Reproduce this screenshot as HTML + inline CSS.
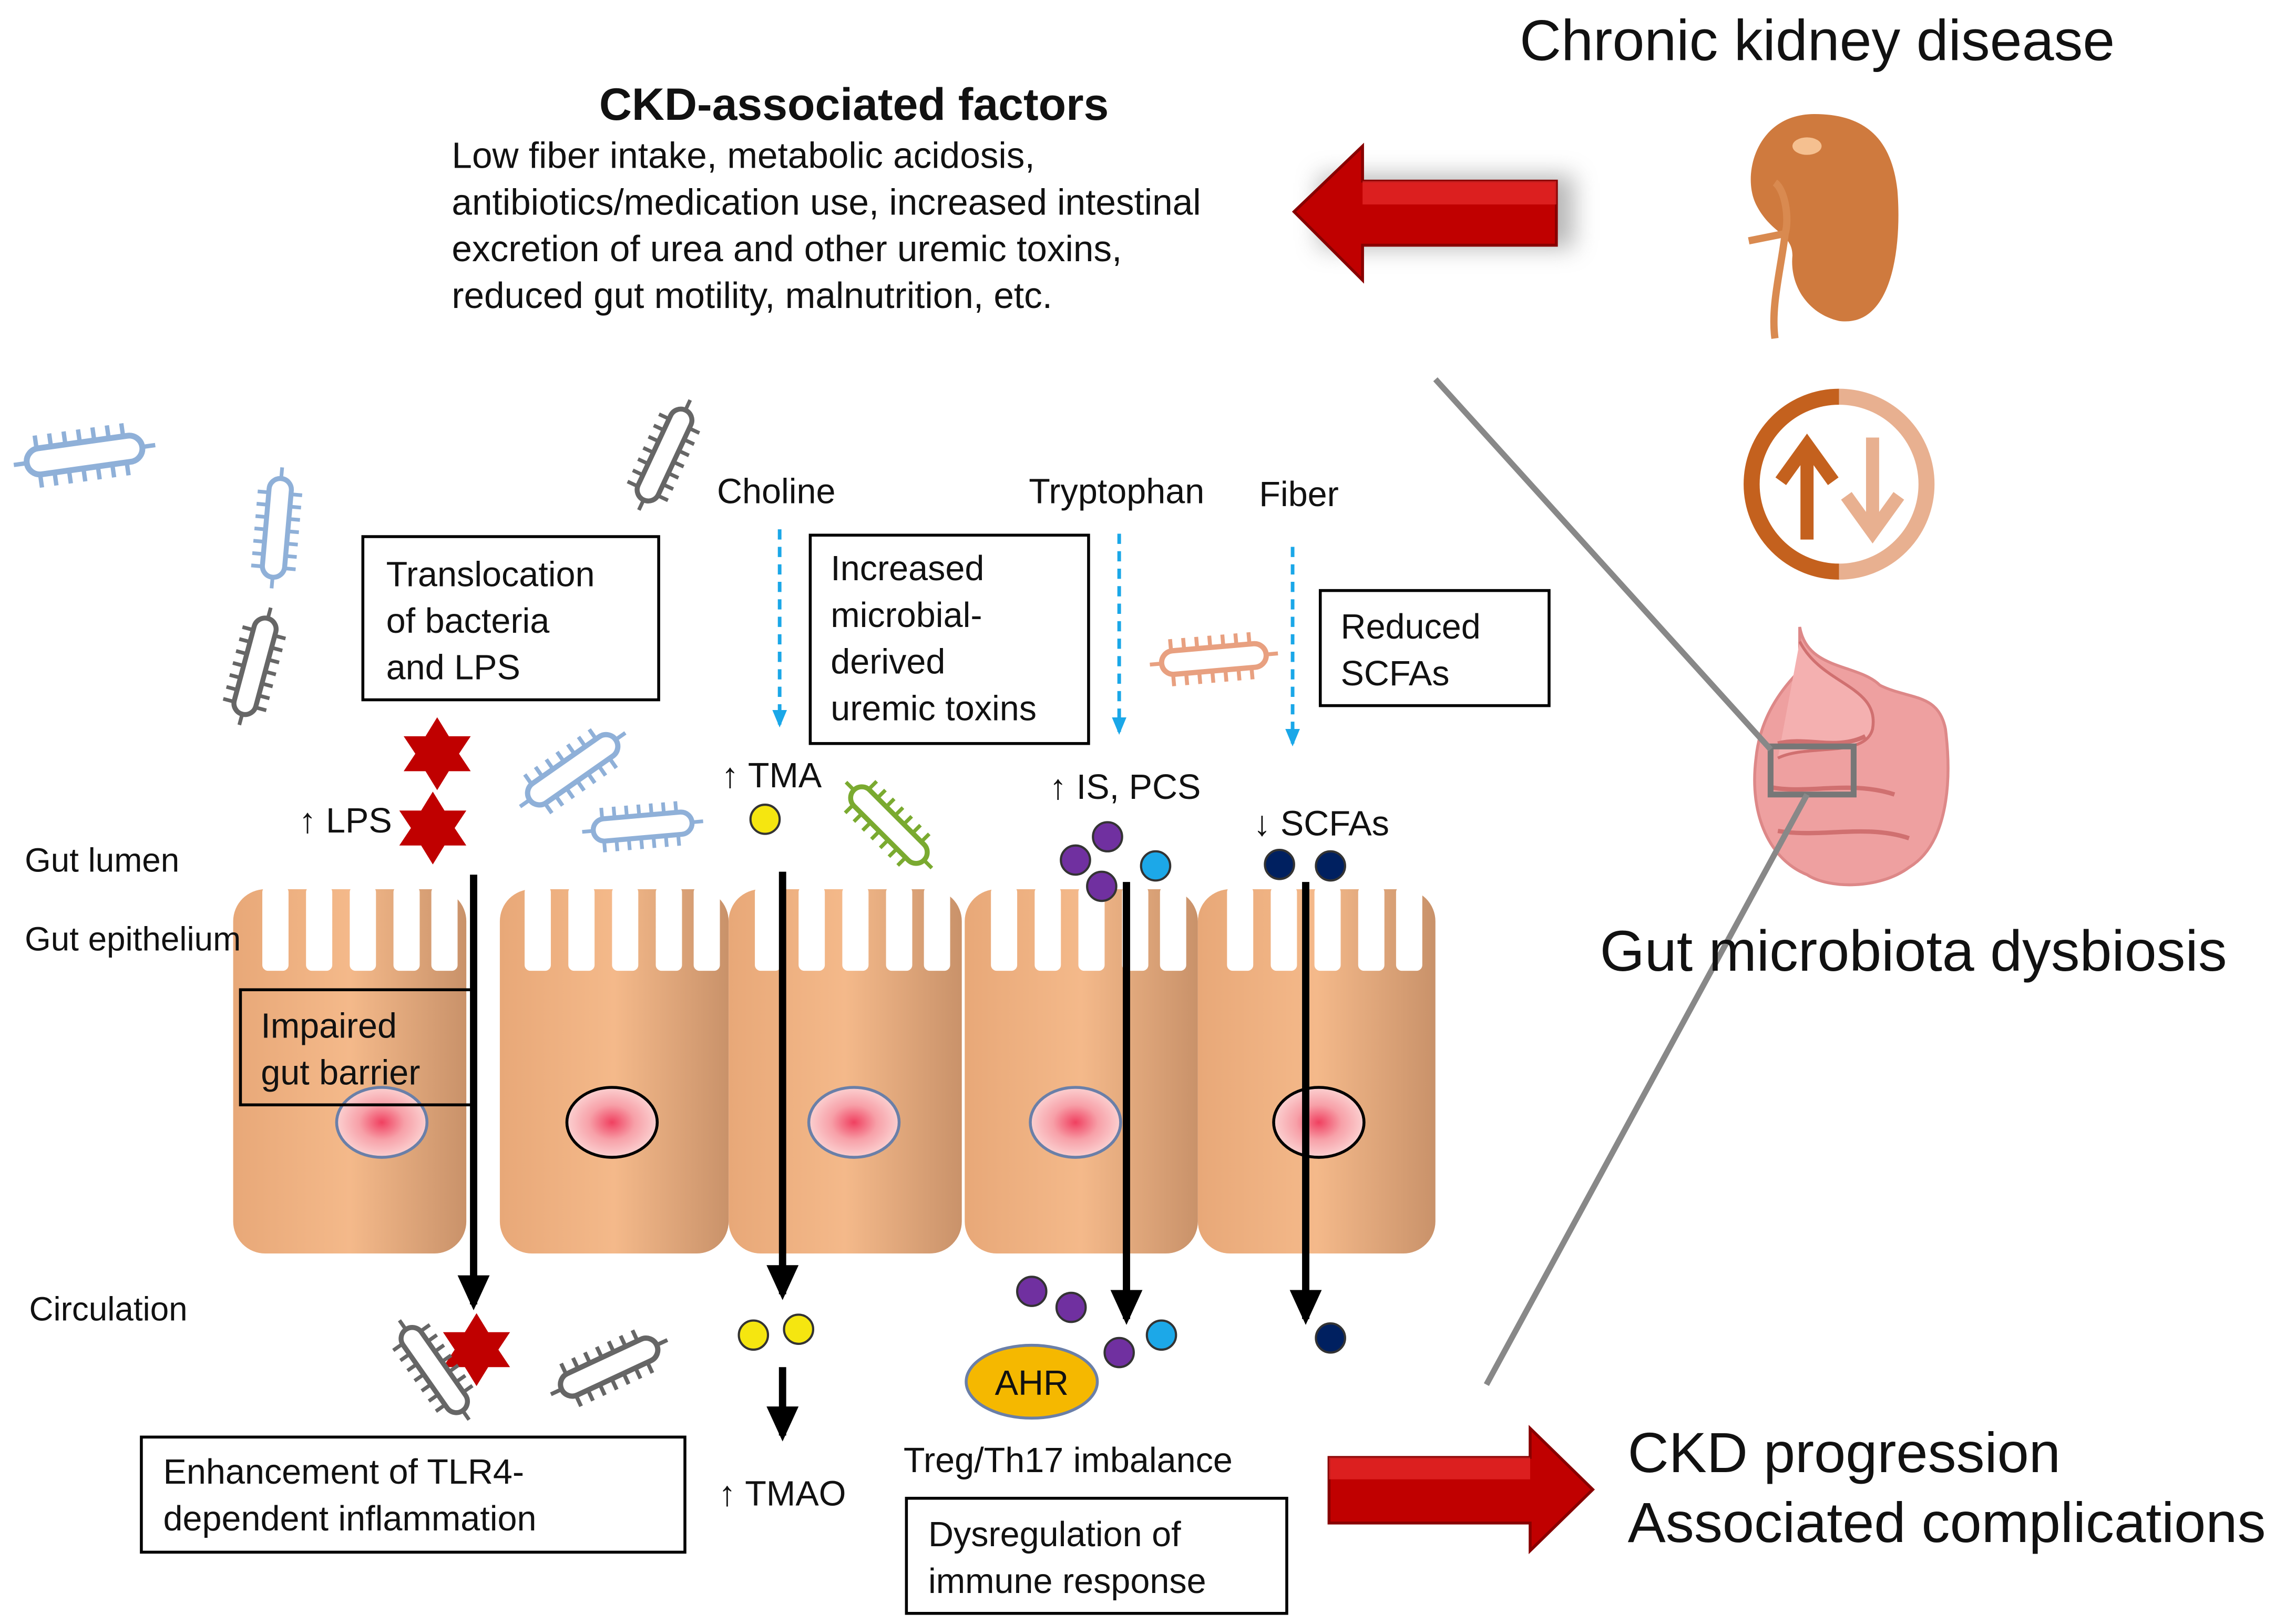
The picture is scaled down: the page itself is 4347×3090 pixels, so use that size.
<!DOCTYPE html>
<html><head><meta charset="utf-8">
<style>
html,body{margin:0;padding:0;background:#fff;}
svg{display:block;}
text{font-family:"Liberation Sans",Arial,sans-serif;fill:#111;}
</style></head><body>
<svg width="4347" height="3090" viewBox="0 0 1568 1114" xmlns="http://www.w3.org/2000/svg">
<defs>
<linearGradient id="cell" x1="0" y1="0" x2="1" y2="0">
<stop offset="0" stop-color="#e8a878"/><stop offset="0.5" stop-color="#f4b98a"/><stop offset="1" stop-color="#c9926a"/>
</linearGradient>
<radialGradient id="nuc"><stop offset="0" stop-color="#f04060"/><stop offset="0.5" stop-color="#f7a0a8"/><stop offset="1" stop-color="#fbd0d0"/></radialGradient>
<filter id="blur"><feGaussianBlur stdDeviation="8"/></filter>
<g id="bac">
<rect x="-40" y="-9" width="80" height="18" rx="9" fill="#fff" stroke-width="4"/>
<path d="M-32,-9v-9M-22,-9v-9M-12,-9v-9M-2,-9v-9M8,-9v-9M18,-9v-9M28,-9v-9M-32,9v9M-22,9v9M-12,9v9M-2,9v9M8,9v9M18,9v9M28,9v9M-40,0h-9M40,0h9" stroke-width="3" fill="none"/>
</g>
<marker id="ah" markerUnits="userSpaceOnUse" markerWidth="24" markerHeight="22" refX="20" refY="11" orient="auto"><path d="M0,0L24,11L0,22z" fill="#000"/></marker>
<marker id="bh" markerUnits="userSpaceOnUse" markerWidth="12" markerHeight="10" refX="10" refY="5" orient="auto"><path d="M0,0L12,5L0,10z" fill="#1aa7e8"/></marker>
</defs>

<!-- top text -->
<text x="1247" y="41" font-size="39.5" text-anchor="middle">Chronic kidney disease</text>
<text x="586" y="82" font-size="31" font-weight="bold" text-anchor="middle">CKD-associated factors</text>
<g font-size="25">
<text x="310" y="115">Low fiber intake, metabolic acidosis,</text>
<text x="310" y="147">antibiotics/medication use, increased intestinal</text>
<text x="310" y="179">excretion of urea and other uremic toxins,</text>
<text x="310" y="211">reduced gut motility, malnutrition,  etc.</text>
</g>

<!-- top red arrow -->
<path d="M905,95L905,120L1080,120L1080,170L905,170L905,195Z" fill="#999" filter="url(#blur)" opacity="0.7"/>
<path d="M888,145L935,100L935,124L1068,124L1068,168L935,168L935,192Z" fill="#c00000" stroke="#800" stroke-width="2"/>
<path d="M935,124L1068,124L1068,140L935,140Z" fill="#e33" opacity="0.6"/>

<!-- kidney -->
<path d="M1245,78C1205,78 1195,120 1205,140C1215,160 1230,160 1230,175C1228,195 1240,215 1262,220C1300,225 1305,165 1302,130C1298,95 1280,78 1245,78Z" fill="#cf7a3e"/>
<path d="M1218,125 C1225,130 1228,150 1225,160 L1200,165 M1225,160 C1222,185 1215,210 1218,232" stroke="#d98a50" stroke-width="5" fill="none"/>
<ellipse cx="1240" cy="100" rx="10" ry="6" fill="#f5c090"/>

<!-- up/down icon -->
<path d="M1262,272 A60,60 0 0,0 1262,392" stroke="#c4611e" stroke-width="11" fill="none"/>
<path d="M1262,272 A60,60 0 0,1 1262,392" stroke="#e8b090" stroke-width="11" fill="none"/>
<path d="M1240,370V310M1222,330L1240,305L1258,330" stroke="#c4611e" stroke-width="9" fill="none"/>
<path d="M1285,300V360M1267,340L1285,365L1303,340" stroke="#e8b090" stroke-width="9" fill="none"/>

<!-- gut -->
<path d="M1235,430C1240,460 1275,455 1290,470C1310,480 1330,475 1335,500C1340,540 1335,580 1310,595C1290,610 1255,610 1240,600C1215,590 1200,560 1205,520C1208,490 1225,470 1235,460Z" fill="#eea0a0" stroke="#d88" stroke-width="2"/>
<path d="M1235,440C1250,470 1290,470 1285,500C1280,520 1240,510 1220,520" fill="#f4b0b0" stroke="#d07070" stroke-width="2"/>
<path d="M1220,510C1240,505 1260,515 1280,505M1215,540C1240,545 1270,535 1300,545M1220,570C1250,575 1280,565 1310,575" stroke="#d07070" stroke-width="3" fill="none"/>
<rect x="1215" y="512" width="57" height="33" fill="none" stroke="#777" stroke-width="4"/>

<!-- gray lines -->
<line x1="985" y1="260" x2="1215" y2="514" stroke="#888" stroke-width="4"/>
<line x1="1020" y1="950" x2="1240" y2="545" stroke="#888" stroke-width="4"/>
<text x="1313" y="666" font-size="39.5" text-anchor="middle">Gut microbiota dysbiosis</text>

<!-- epithelium -->
<g>
<rect x="160" y="610" width="160" height="250" rx="22" fill="url(#cell)"/>
<rect x="343" y="610" width="157" height="250" rx="22" fill="url(#cell)"/>
<rect x="500" y="610" width="160" height="250" rx="22" fill="url(#cell)"/>
<rect x="662" y="610" width="160" height="250" rx="22" fill="url(#cell)"/>
<rect x="822" y="610" width="163" height="250" rx="22" fill="url(#cell)"/>
</g>
<g fill="#fff">
<rect x="180" y="608" width="18" height="58" rx="4"/><rect x="210" y="608" width="18" height="58" rx="4"/><rect x="240" y="608" width="18" height="58" rx="4"/><rect x="270" y="608" width="18" height="58" rx="4"/><rect x="296" y="608" width="18" height="58" rx="4"/>
<rect x="360" y="608" width="18" height="58" rx="4"/><rect x="390" y="608" width="18" height="58" rx="4"/><rect x="420" y="608" width="18" height="58" rx="4"/><rect x="450" y="608" width="18" height="58" rx="4"/><rect x="476" y="608" width="18" height="58" rx="4"/>
<rect x="518" y="608" width="18" height="58" rx="4"/><rect x="548" y="608" width="18" height="58" rx="4"/><rect x="578" y="608" width="18" height="58" rx="4"/><rect x="608" y="608" width="18" height="58" rx="4"/><rect x="634" y="608" width="18" height="58" rx="4"/>
<rect x="680" y="608" width="18" height="58" rx="4"/><rect x="710" y="608" width="18" height="58" rx="4"/><rect x="740" y="608" width="18" height="58" rx="4"/><rect x="770" y="608" width="18" height="58" rx="4"/><rect x="796" y="608" width="18" height="58" rx="4"/>
<rect x="842" y="608" width="18" height="58" rx="4"/><rect x="872" y="608" width="18" height="58" rx="4"/><rect x="902" y="608" width="18" height="58" rx="4"/><rect x="932" y="608" width="18" height="58" rx="4"/><rect x="958" y="608" width="18" height="58" rx="4"/>
</g>
<g fill="url(#nuc)" stroke-width="2">
<ellipse cx="262" cy="770" rx="31" ry="24" stroke="#6a7fa8"/>
<ellipse cx="420" cy="770" rx="31" ry="24" stroke="#000"/>
<ellipse cx="586" cy="770" rx="31" ry="24" stroke="#6a7fa8"/>
<ellipse cx="738" cy="770" rx="31" ry="24" stroke="#6a7fa8"/>
<ellipse cx="905" cy="770" rx="31" ry="24" stroke="#000"/>
</g>

<!-- labels left -->
<g font-size="23">
<text x="17" y="598">Gut lumen</text>
<text x="17" y="652">Gut epithelium</text>
<text x="20" y="906">Circulation</text>
</g>

<!-- boxes -->
<g fill="none" stroke="#000" stroke-width="2">
<rect x="249" y="368" width="203" height="112"/>
<rect x="556" y="367" width="191" height="143" fill="#fff"/>
<rect x="906" y="405" width="157" height="79"/>
<rect x="165" y="679" width="160" height="79"/>
<rect x="97" y="986" width="373" height="79"/>
<rect x="622" y="1028" width="261" height="79"/>
</g>
<g font-size="24">
<text x="265" y="402">Translocation</text><text x="265" y="434">of bacteria</text><text x="265" y="466">and LPS</text>
<text x="570" y="398">Increased</text><text x="570" y="430">microbial-</text><text x="570" y="462">derived</text><text x="570" y="494">uremic toxins</text>
<text x="920" y="438">Reduced</text><text x="920" y="470">SCFAs</text>
<text x="179" y="712">Impaired</text><text x="179" y="744">gut barrier</text>
<text x="112" y="1018">Enhancement  of TLR4-</text><text x="112" y="1050">dependent inflammation</text>
<text x="637" y="1061">Dysregulation  of</text><text x="637" y="1093">immune response</text>
<text x="492" y="345">Choline</text><text x="706" y="345">Tryptophan</text><text x="864" y="347">Fiber</text>
<text x="495" y="540">↑ TMA</text><text x="720" y="548">↑ IS,  PCS</text><text x="860" y="573">↓ SCFAs</text>
<text x="205" y="571">↑ LPS</text><text x="493" y="1033">↑ TMAO</text><text x="620" y="1010">Treg/Th17  imbalance</text>
</g>

<!-- blue dashed arrows -->
<g stroke="#1aa7e8" stroke-width="2.5" stroke-dasharray="7,5" marker-end="url(#bh)">
<line x1="535" y1="363" x2="535" y2="497"/>
<line x1="768" y1="366" x2="768" y2="502"/>
<line x1="887" y1="375" x2="887" y2="510"/>
</g>
<!-- black arrows -->
<g stroke="#000" stroke-width="5" marker-end="url(#ah)">
<line x1="325" y1="600" x2="325" y2="895"/>
<line x1="537" y1="598" x2="537" y2="888"/>
<line x1="773" y1="605" x2="773" y2="905"/>
<line x1="896" y1="605" x2="896" y2="905"/>
<line x1="537" y1="938" x2="537" y2="985"/>
</g>

<!-- stars -->
<g fill="#c00000">
<path d="M300,492l8,13h15l-8,12l8,12h-15l-8,13l-8,-13h-15l8,-12l-8,-12h15z"/>
<path d="M297,543l8,13h15l-8,12l8,12h-15l-8,13l-8,-13h-15l8,-12l-8,-12h15z"/>
<path d="M327,901l8,13h15l-8,12l8,12h-15l-8,13l-8,-13h-15l8,-12l-8,-12h15z"/>
</g>

<!-- molecules -->
<g stroke="#333" stroke-width="1.5">
<circle cx="525" cy="562" r="10" fill="#f5e610"/>
<circle cx="517" cy="916" r="10" fill="#f5e610"/><circle cx="548" cy="912" r="10" fill="#f5e610"/>
<circle cx="760" cy="574" r="10" fill="#7030a0"/><circle cx="738" cy="590" r="10" fill="#7030a0"/><circle cx="756" cy="608" r="10" fill="#7030a0"/><circle cx="793" cy="594" r="10" fill="#1ca8e8"/>
<circle cx="708" cy="886" r="10" fill="#7030a0"/><circle cx="735" cy="897" r="10" fill="#7030a0"/><circle cx="768" cy="928" r="10" fill="#7030a0"/><circle cx="797" cy="916" r="10" fill="#1ca8e8"/>
<circle cx="878" cy="593" r="10" fill="#002060"/><circle cx="913" cy="594" r="10" fill="#002060"/><circle cx="913" cy="918" r="10" fill="#002060"/>
</g>
<ellipse cx="708" cy="948" rx="45" ry="25" fill="#f5b800" stroke="#6a7fa8" stroke-width="2"/>
<text x="708" y="957" font-size="24" text-anchor="middle">AHR</text>

<!-- bacteria -->
<use href="#bac" transform="translate(58,312) rotate(-8)" stroke="#8fb0d8"/>
<use href="#bac" transform="translate(190,362) rotate(-85) scale(0.85)" stroke="#8fb0d8"/>
<use href="#bac" transform="translate(175,457) rotate(-75) scale(0.85)" stroke="#666"/>
<use href="#bac" transform="translate(456,312) rotate(-65) scale(0.85)" stroke="#666"/>
<use href="#bac" transform="translate(393,528) rotate(-35) scale(0.9)" stroke="#8fb0d8"/>
<use href="#bac" transform="translate(441,567) rotate(-5) scale(0.85)" stroke="#8fb0d8"/>
<use href="#bac" transform="translate(610,566) rotate(45) scale(0.85)" stroke="#7aaa30"/>
<use href="#bac" transform="translate(833,452) rotate(-5) scale(0.9)" stroke="#e8a080"/>
<use href="#bac" transform="translate(298,940) rotate(55) scale(0.85)" stroke="#666"/>
<use href="#bac" transform="translate(418,938) rotate(-25) scale(0.9)" stroke="#666"/>

<!-- bottom red arrow -->
<path d="M912,1000L1050,1000L1050,980L1093,1022L1050,1064L1050,1045L912,1045Z" fill="#c00000" stroke="#800" stroke-width="2"/>
<path d="M912,1000L1050,1000L1050,1015L912,1015Z" fill="#e33" opacity="0.6"/>
<text x="1117" y="1010" font-size="39">CKD progression</text>
<text x="1117" y="1058" font-size="39">Associated complications</text>
</svg>
</body></html>
